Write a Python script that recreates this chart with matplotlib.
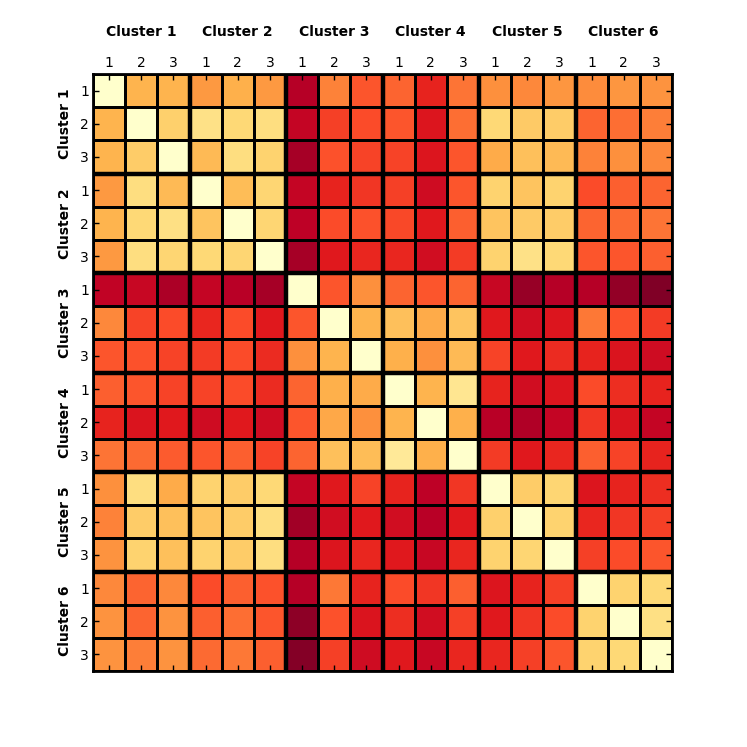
import numpy as np
import matplotlib
matplotlib.use("Agg")
import matplotlib.pyplot as plt

clusters = ["Cluster 1", "Cluster 2", "Cluster 3", "Cluster 4", "Cluster 5", "Cluster 6"]
sub_labels = ["1", "2", "3"]

# dissimilarity values (0 = light yellow, 1 = dark red)
r00 = [0.00, 0.37, 0.37, 0.46, 0.38, 0.46, 0.89, 0.52, 0.61, 0.58, 0.73, 0.55, 0.49, 0.51, 0.47, 0.50, 0.47, 0.48]
r01 = [0.37, 0.00, 0.28, 0.20, 0.25, 0.22, 0.85, 0.66, 0.63, 0.61, 0.77, 0.56, 0.25, 0.30, 0.29, 0.58, 0.56, 0.53]
r02 = [0.37, 0.29, 0.00, 0.35, 0.22, 0.27, 0.92, 0.62, 0.65, 0.65, 0.77, 0.61, 0.40, 0.33, 0.35, 0.52, 0.49, 0.51]
r03 = [0.46, 0.22, 0.35, 0.00, 0.34, 0.26, 0.85, 0.73, 0.68, 0.66, 0.82, 0.61, 0.27, 0.32, 0.27, 0.63, 0.59, 0.58]
r04 = [0.37, 0.25, 0.21, 0.32, 0.00, 0.26, 0.87, 0.63, 0.62, 0.64, 0.76, 0.59, 0.32, 0.30, 0.29, 0.58, 0.57, 0.55]
r05 = [0.46, 0.22, 0.26, 0.25, 0.26, 0.00, 0.92, 0.76, 0.72, 0.72, 0.81, 0.67, 0.27, 0.20, 0.25, 0.61, 0.61, 0.59]
r06 = [0.86, 0.84, 0.91, 0.85, 0.88, 0.92, 0.00, 0.61, 0.49, 0.58, 0.61, 0.58, 0.84, 0.95, 0.89, 0.89, 0.96, 1.00]
r07 = [0.51, 0.65, 0.63, 0.72, 0.63, 0.76, 0.61, 0.00, 0.37, 0.33, 0.40, 0.32, 0.76, 0.81, 0.77, 0.54, 0.62, 0.67]
r08 = [0.61, 0.62, 0.65, 0.67, 0.63, 0.71, 0.49, 0.37, 0.00, 0.38, 0.49, 0.35, 0.65, 0.76, 0.71, 0.73, 0.78, 0.82]
r09 = [0.59, 0.61, 0.65, 0.65, 0.63, 0.71, 0.58, 0.38, 0.40, 0.00, 0.37, 0.17, 0.73, 0.81, 0.77, 0.63, 0.70, 0.73]
r10 = [0.73, 0.78, 0.76, 0.82, 0.76, 0.82, 0.61, 0.41, 0.49, 0.37, 0.00, 0.38, 0.88, 0.90, 0.85, 0.68, 0.78, 0.85]
r11 = [0.55, 0.57, 0.60, 0.61, 0.59, 0.65, 0.58, 0.33, 0.34, 0.15, 0.38, 0.00, 0.67, 0.76, 0.72, 0.59, 0.65, 0.73]
r12 = [0.49, 0.22, 0.40, 0.27, 0.29, 0.25, 0.85, 0.76, 0.65, 0.73, 0.87, 0.68, 0.00, 0.29, 0.26, 0.77, 0.73, 0.70]
r13 = [0.52, 0.29, 0.33, 0.32, 0.29, 0.22, 0.93, 0.81, 0.76, 0.81, 0.88, 0.76, 0.28, 0.00, 0.27, 0.72, 0.68, 0.66]
r14 = [0.48, 0.27, 0.33, 0.27, 0.29, 0.22, 0.89, 0.77, 0.72, 0.76, 0.84, 0.72, 0.27, 0.26, 0.00, 0.66, 0.63, 0.61]
r15 = [0.51, 0.58, 0.51, 0.63, 0.59, 0.62, 0.89, 0.54, 0.73, 0.63, 0.68, 0.59, 0.77, 0.73, 0.66, 0.00, 0.27, 0.25]
r16 = [0.48, 0.58, 0.48, 0.59, 0.56, 0.61, 0.97, 0.62, 0.78, 0.70, 0.81, 0.66, 0.76, 0.68, 0.63, 0.27, 0.00, 0.21]
r17 = [0.48, 0.53, 0.48, 0.57, 0.54, 0.59, 0.99, 0.66, 0.82, 0.76, 0.84, 0.72, 0.72, 0.66, 0.61, 0.27, 0.25, 0.00]

mat = np.array([r00, r01, r02, r03, r04, r05, r06, r07, r08,
                r09, r10, r11, r12, r13, r14, r15, r16, r17])
n = mat.shape[0]

fig = plt.figure(figsize=(7.47, 7.47), dpi=100)
ax = fig.add_axes([93 / 747, 1 - 671 / 747, 579 / 747, 597 / 747])

ax.pcolormesh(np.arange(n + 1), np.arange(n + 1), mat, cmap="YlOrRd",
              vmin=0, vmax=1, edgecolors="k", linewidth=0.75)
ax.set_xlim(0, n)
ax.set_ylim(n, 0)

# thick cluster separators
for b in range(3, n, 3):
    ax.axvline(b, color="k", lw=3.2)
    ax.axhline(b, color="k", lw=3.2)

ticks = np.arange(n) + 0.5
ax.set_xticks(ticks)
ax.set_yticks(ticks)
ax.set_xticklabels(sub_labels * len(clusters), fontsize=10)
ax.set_yticklabels(sub_labels * len(clusters), fontsize=10)
ax.tick_params(direction="in", length=4, width=1, top=True, bottom=True,
               left=True, right=True, labeltop=True, labelbottom=False, pad=3)
for s in ax.spines.values():
    s.set_linewidth(2.0)

for k, name in enumerate(clusters):
    c = 3 * k + 1.5
    ax.text(c, -1.27, name, ha="center", va="center", fontsize=10, fontweight="bold")
    ax.text(-0.87, c, name, ha="center", va="center", rotation=90,
            fontsize=10, fontweight="bold")

fig.savefig("out.png", dpi=100)
